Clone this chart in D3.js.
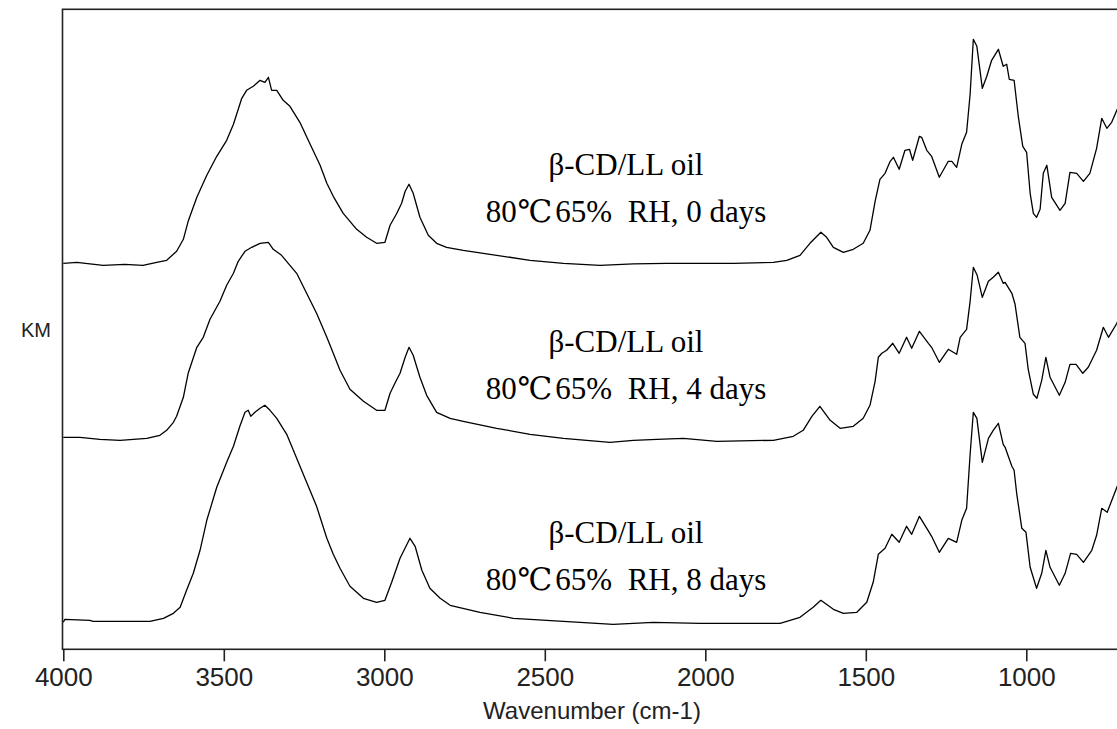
<!DOCTYPE html>
<html>
<head>
<meta charset="utf-8">
<script src="https://cdn.jsdelivr.net/npm/d3@7"></script>
<style>
  body { margin: 0; background: #fff; }
  svg { display: block; }
</style>
</head>
<body>
<div id="chart"></div>
<script>
// spectra: wavenumber (cm-1) and KM value
const wn0days = [4000,3958,3876,3808,3752,3709,3678,3647,3626,3611,3584,3553,3522,3491,3470,3444,3429,3408,3387,3372,3361,3351,3335,3315,3294,3263,3231,3200,3179,3159,3128,3086,3055,3024,2998,2982,2961,2946,2935,2923,2910,2889,2863,2837,2806,2754,2650,2546,2442,2328,2224,2120,2016,1913,1788,1746,1705,1674,1640,1622,1601,1570,1539,1508,1487,1471,1456,1440,1424,1414,1396,1378,1364,1354,1333,1326,1310,1295,1271,1243,1232,1217,1201,1186,1175,1165,1154,1137,1123,1108,1087,1072,1061,1053,1038,1025,1011,999,988,978,968,957,947,936,921,895,879,864,843,822,802,781,765,749,734,718,700];
const km0days = [38.6,38.7,38.4,38.5,38.4,38.7,38.9,39.8,41.0,42.8,45.2,47.4,49.3,50.9,52.5,55.1,55.9,56.3,56.9,56.7,57.2,55.9,55.9,54.9,54.3,52.7,50.5,48.4,46.6,45.3,43.6,42.0,41.2,40.6,40.7,42.4,43.6,44.6,45.8,46.5,45.6,43.2,41.4,40.6,40.2,39.9,39.4,38.9,38.6,38.4,38.55,38.6,38.6,38.6,38.7,38.9,39.4,40.6,41.7,41.2,40.2,39.7,40.0,40.6,41.9,44.8,47.0,47.6,48.8,49.2,48.0,49.9,50.0,48.9,51.3,51.2,49.9,49.3,47.2,48.8,48.8,48.2,50.5,51.7,55.5,61.0,60.3,56.1,57.3,58.9,60.0,58.3,58.5,57.0,56.9,53.3,50.3,49.7,45.6,43.6,43.2,44.0,47.6,48.4,45.2,43.9,44.6,47.7,47.6,46.8,47.6,50.1,53.1,52.1,52.7,53.9,55.0];

const wn4days = [4000,3948,3886,3823,3740,3699,3678,3657,3647,3626,3611,3584,3564,3543,3512,3491,3470,3455,3434,3413,3387,3361,3346,3320,3294,3273,3242,3211,3179,3159,3138,3107,3065,3024,2998,2982,2967,2951,2935,2923,2910,2889,2868,2837,2795,2754,2650,2546,2442,2297,2224,2151,2068,1964,1788,1726,1695,1668,1643,1611,1580,1539,1508,1487,1471,1461,1450,1435,1416,1396,1373,1357,1333,1305,1295,1271,1243,1217,1206,1186,1175,1165,1153,1137,1118,1103,1087,1072,1066,1045,1035,1020,1004,994,978,967,952,939,926,897,879,864,845,824,807,781,760,744,718,700];
const km4days = [21.2,21.2,21.0,20.9,21.1,21.4,21.9,22.7,23.3,25.2,27.6,30.2,31.2,33.0,34.8,36.4,37.6,38.8,39.8,40.2,40.6,40.7,40.0,39.4,38.4,37.6,35.6,33.6,31.2,29.6,27.9,26.0,24.8,23.9,23.9,25.6,26.6,27.6,29.2,30.2,29.4,27.2,25.4,23.7,23.1,22.8,22.1,21.5,21.1,20.7,20.9,21.0,21.1,20.8,20.9,21.3,21.9,23.3,24.3,22.9,22.1,22.3,23.1,24.4,26.8,29.2,29.6,29.9,30.6,29.6,31.2,30.1,31.8,30.6,30.2,28.7,30.0,29.5,31.2,32.0,34.8,38.2,37.4,35.2,36.8,37.2,37.7,36.6,36.7,35.6,34.5,31.2,30.6,28.0,25.5,25.1,26.9,29.2,27.2,25.4,26.7,28.5,28.5,27.6,28.2,29.9,32.2,31.2,32.6,34.0];

const wn8days = [4000,3995,3917,3907,3730,3688,3657,3636,3616,3595,3574,3553,3522,3491,3470,3450,3434,3424,3416,3403,3387,3372,3356,3335,3304,3273,3242,3211,3179,3159,3138,3107,3065,3024,2998,2977,2951,2920,2904,2883,2858,2826,2795,2702,2598,2494,2390,2287,2162,2016,1767,1705,1664,1640,1601,1570,1528,1497,1477,1461,1440,1419,1396,1373,1357,1333,1310,1295,1271,1243,1217,1201,1186,1175,1165,1154,1137,1118,1103,1087,1072,1066,1045,1038,1030,1014,1001,988,968,952,939,926,897,879,862,843,822,796,781,765,748,718,700];
const km8days = [2.7,3.0,2.9,2.8,2.8,3.1,3.6,4.2,5.9,7.6,9.9,12.9,16.2,18.7,20.3,22.3,23.7,23.9,23.3,23.7,24.1,24.4,23.9,23.1,21.5,19.1,16.7,14.3,11.1,9.5,8.1,6.3,5.1,4.7,4.9,6.7,9.1,11.1,10.3,7.9,6.1,5.1,4.4,3.7,3.1,2.9,2.7,2.5,2.7,2.6,2.6,3.2,4.2,4.9,4.0,3.6,3.7,4.7,6.7,9.5,10.1,11.5,10.7,12.3,11.5,13.3,12.1,11.3,9.7,11.1,10.7,12.9,14.1,19.5,23.7,23.1,18.7,21.1,21.9,22.6,20.5,20.2,18.3,17.9,15.6,12.1,11.7,8.2,6.1,7.6,9.9,8.2,6.4,7.6,9.6,9.5,8.7,9.9,11.4,14.1,13.7,16.2,17.5];

// annotation text and the KM level its first line sits at
const sampleName = "β-CD/LL oil";
const conditions = ["80℃65%  RH, 0 days", "80℃65%  RH, 4 days", "80℃65%  RH, 8 days"];
const labelLevels = [47.4, 29.7, 10.6];

const xTicks = [4000, 3500, 3000, 2500, 2000, 1500, 1000];

function createSpectraChart(parentElement) {

    const width = 1117, height = 729;
    const margin = {top: 9.3, left: 63.3, bottom: 79.7};
    const plotBottom = height - margin.bottom;

    const svg = d3.select("#" + parentElement)
        .append("svg")
        .attr("width", width)
        .attr("height", height);

    // x runs high to low; the right end of the frame falls outside the picture
    const x = d3.scaleLinear()
        .domain([4000, 400])
        .range([margin.left, margin.left + 3600 * 0.321]);

    const y = d3.scaleLinear()
        .domain([0, 64])
        .range([plotBottom, margin.top]);

    // plot frame
    svg.append("rect")
        .attr("x", margin.left - 0.8)
        .attr("y", margin.top)
        .attr("width", 1200)
        .attr("height", plotBottom - margin.top)
        .attr("fill", "none")
        .attr("stroke", "#222")
        .attr("stroke-width", 1.6);

    // x axis
    const xAxis = svg.append("g")
        .attr("transform", `translate(0,${plotBottom})`)
        .call(d3.axisBottom(x).tickValues(xTicks).tickSize(12).tickPadding(6).tickFormat(d3.format("d")));

    xAxis.select(".domain").remove();
    xAxis.selectAll(".tick line").attr("stroke", "#222").attr("stroke-width", 1.6);
    xAxis.selectAll(".tick text")
        .attr("fill", "#222")
        .style("font-family", "Arial, 'Liberation Sans', sans-serif")
        .style("font-size", "26px");

    svg.append("text")
        .attr("x", 592)
        .attr("y", 719)
        .attr("text-anchor", "middle")
        .attr("fill", "#222")
        .style("font-family", "Arial, 'Liberation Sans', sans-serif")
        .style("font-size", "24px")
        .text("Wavenumber (cm-1)");

    svg.append("text")
        .attr("x", 36)
        .attr("y", 337)
        .attr("text-anchor", "middle")
        .attr("fill", "#222")
        .style("font-family", "Arial, 'Liberation Sans', sans-serif")
        .style("font-size", "20px")
        .text("KM");

    // the three spectra
    const series = [
        d3.zip(wn0days, km0days),
        d3.zip(wn4days, km4days),
        d3.zip(wn8days, km8days)
    ];

    const line = d3.line()
        .x(d => x(d[0]))
        .y(d => y(d[1]));

    svg.append("g")
        .selectAll("path")
        .data(series)
        .join("path")
        .attr("d", line)
        .attr("fill", "none")
        .attr("stroke", "#000")
        .attr("stroke-width", 1.3)
        .attr("stroke-linejoin", "round");

    // sample labels
    const labels = svg.append("g")
        .selectAll("text")
        .data(conditions)
        .join("text")
        .attr("text-anchor", "middle")
        .attr("fill", "#000")
        .style("font-family", "'Times New Roman', 'Liberation Serif', serif")
        .style("font-size", "31px")
        .style("white-space", "pre")
        .attr("transform", (d, i) => `translate(626,${y(labelLevels[i])})`);

    labels.append("tspan")
        .attr("x", 0)
        .attr("y", 0)
        .text(sampleName);

    // second line; the degree sign comes from another face
    const second = labels.append("tspan")
        .attr("x", 0)
        .attr("y", 47);

    second.append("tspan").text(d => d.split("℃")[0]);
    second.append("tspan")
        .attr("dx", 1)
        .style("font-family", "'DejaVu Serif', 'DejaVu Sans', 'Noto Sans CJK SC', serif")
        .style("font-weight", "300")
        .text("℃");
    second.append("tspan")
        .attr("dx", 3)
        .text(d => d.split("℃")[1]);
}

createSpectraChart("chart");
</script>
</body>
</html>
